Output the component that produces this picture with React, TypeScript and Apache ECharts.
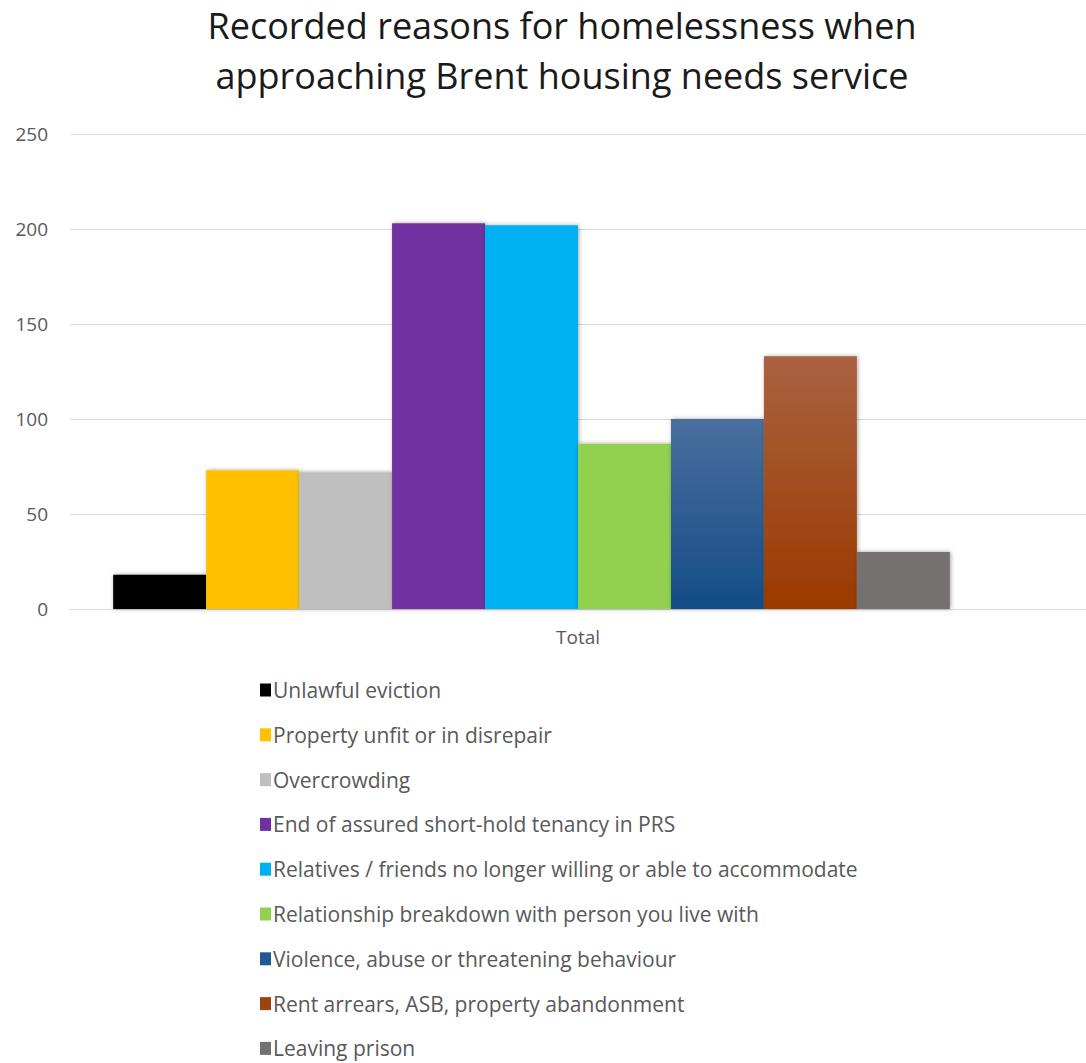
import React, { useEffect, useRef } from "react";
import * as echarts from "echarts";

const categories = ["Total"];
const seriesNames = [
  "Unlawful eviction",
  "Property unfit or in disrepair",
  "Overcrowding",
  "End of assured short-hold tenancy in PRS",
  "Relatives / friends no longer willing or able to accommodate",
  "Relationship breakdown with person you live with",
  "Violence, abuse or threatening behaviour",
  "Rent arrears, ASB, property abandonment",
  "Leaving prison",
];
const seriesValues = [18, 73, 72, 203, 202, 87, 100, 133, 30];
const yTicks = [0, 50, 100, 150, 200, 250];

const colors: any[] = [
  "#000000",
  "#ffc000",
  "#bfbfbf",
  "#7030a0",
  "#00b0f0",
  "#92d050",
  new echarts.graphic.LinearGradient(0, 0, 0, 1, [
    { offset: 0, color: "#4a6f9e" },
    { offset: 1, color: "#144c86" },
  ]),
  new echarts.graphic.LinearGradient(0, 0, 0, 1, [
    { offset: 0, color: "#aa6241" },
    { offset: 1, color: "#9a3a00" },
  ]),
  "#767171",
];
const legendColors = ["#000000", "#ffc000", "#bfbfbf", "#7030a0", "#00b0f0", "#92d050", "#1f5a92", "#9e4310", "#767171"];

export default function App() {
  const ref = useRef<HTMLDivElement>(null);
  useEffect(() => {
    document.body.style.margin = "0";
    const chart = echarts.init(ref.current!, null, { renderer: "svg" });
    const series: any[] = seriesNames.map((name, i) => ({
      name,
      type: "bar",
      data: [seriesValues[i]],
      barGap: "0%",
      barCategoryGap: "8.5%",
      itemStyle: {
        color: colors[i],
        shadowColor: "rgba(0,0,0,0.35)",
        shadowBlur: 4,
        shadowOffsetX: 1,
        shadowOffsetY: 0,
      },
    }));
    // empty slot (Excel leaves room for an unused series)
    series.push({
      name: "__empty",
      type: "bar",
      data: ["-"],
      barGap: "0%",
      barCategoryGap: "8.5%",
    });
    chart.setOption({
      animation: false,
      backgroundColor: "#ffffff",
      title: {
        text: "Recorded reasons for homelessness when\napproaching Brent housing needs service",
        left: 557,
        top: -5,
        textAlign: "center",
        textStyle: {
          fontFamily: "Open Sans",
          fontWeight: "normal",
          fontSize: 36,
          lineHeight: 50,
          color: "#1a1a1a",
        },
      },
      grid: { left: 70, right: -4, top: 134, bottom: 454, containLabel: false },
      xAxis: {
        type: "category",
        data: categories,
        axisLine: { lineStyle: { color: "#d9d9d9", width: 1 } },
        axisTick: { show: false },
        axisLabel: { color: "#595959", fontSize: 19, fontFamily: "Open Sans", margin: 18 },
      },
      yAxis: {
        type: "value",
        min: yTicks[0],
        max: yTicks[yTicks.length - 1],
        interval: 50,
        axisLine: { show: false },
        axisTick: { show: false },
        axisLabel: { color: "#595959", fontSize: 19, fontFamily: "Open Sans", margin: 22 },
        splitLine: { lineStyle: { color: "#d9d9d9", width: 1 } },
      },
      legend: {
        data: seriesNames.map((n, i) => ({ name: n, itemStyle: { color: legendColors[i] } })),
        orient: "vertical",
        left: 255,
        top: 673,
        height: 400,
        icon: "rect",
        itemWidth: 11,
        itemHeight: 13,
        itemGap: 20.8,
        textStyle: { color: "#595959", fontSize: 21, fontFamily: "Open Sans", lineHeight: 24, padding: [0, 0, 0, -3] },
      },
      series,
    });
    return () => chart.dispose();
  }, []);
  return <div ref={ref} style={{ width: 1086, height: 1063 }} />;
}
